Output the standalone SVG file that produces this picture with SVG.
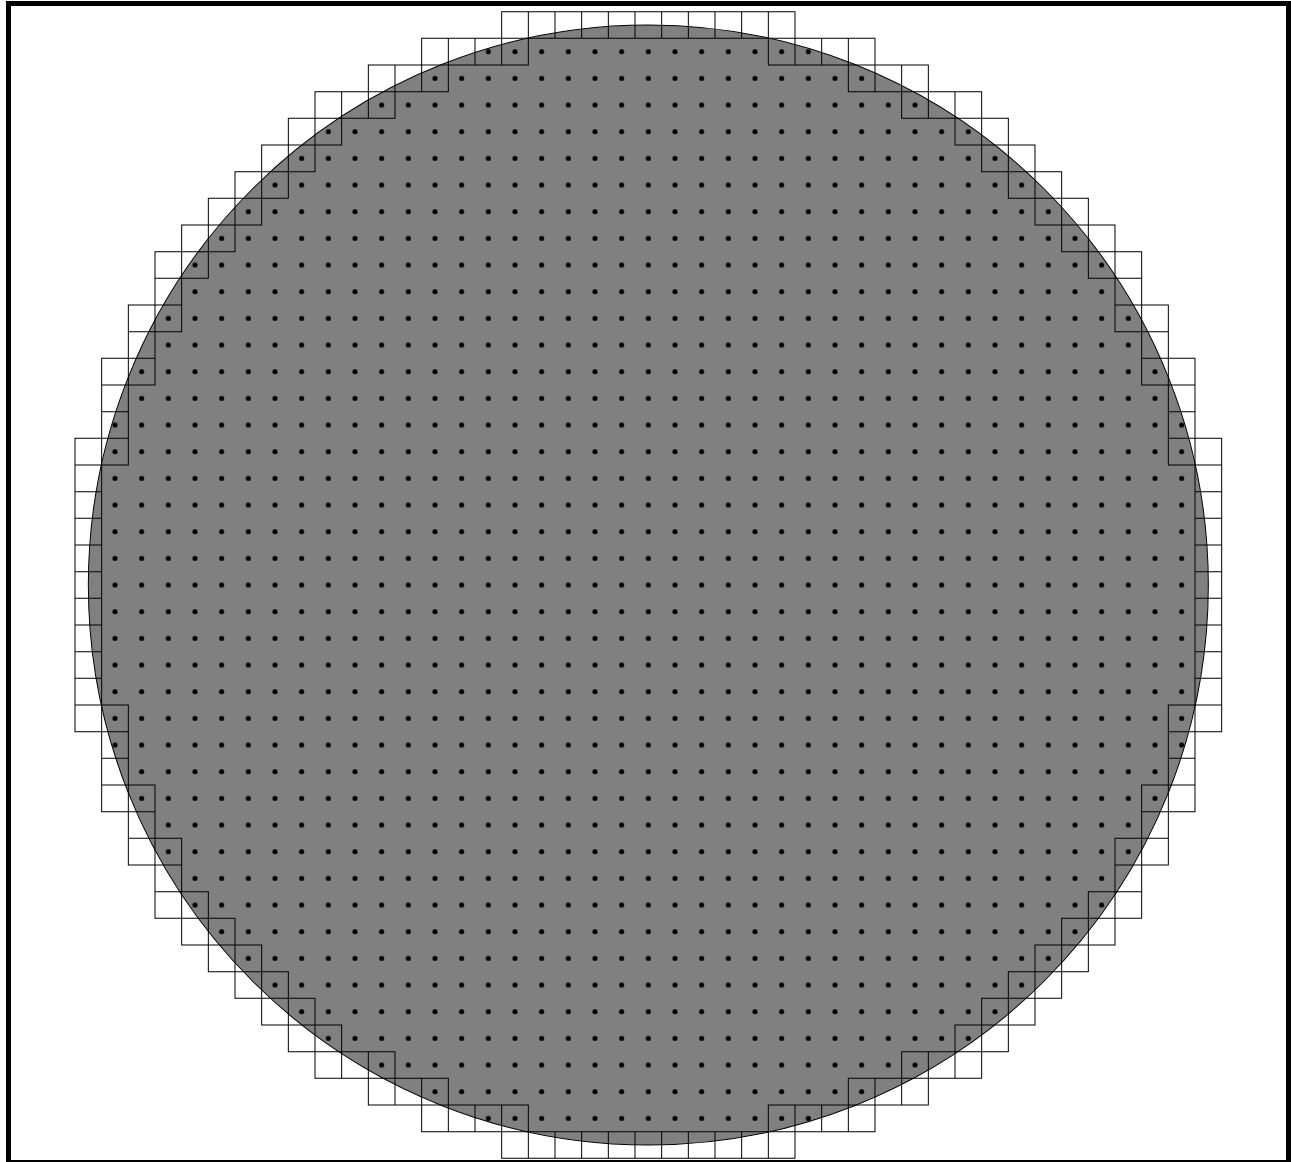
<svg xmlns="http://www.w3.org/2000/svg" width="1291" height="1162" viewBox="0 0 1291 1162">
<style>
.cell{fill:none;stroke:#000;stroke-width:0.0375}
</style>
<defs>
<pattern id="dot" patternUnits="userSpaceOnUse" x="-0.5" y="-0.5" width="1" height="1">
<circle cx="0.5" cy="0.5" r="0.095" fill="#000"/>
</pattern>
</defs>
<rect id="frame" x="8.5" y="3.5" width="1280" height="1159" fill="#fff" stroke="#000" stroke-width="5"/>
<g transform="translate(648.333 585) scale(26.6667)">
<circle id="disc" cx="0" cy="0" r="21" fill="#808080" stroke="#000" stroke-width="0.0375"/>
<path id="boundary-cells" class="cell" d="
M-5.5 -21.5h1v1h-1z M-4.5 -21.5h1v1h-1z M-3.5 -21.5h1v1h-1z M-2.5 -21.5h1v1h-1z M-1.5 -21.5h1v1h-1z M-0.5 -21.5h1v1h-1z M0.5 -21.5h1v1h-1z M1.5 -21.5h1v1h-1z M2.5 -21.5h1v1h-1z M3.5 -21.5h1v1h-1z M4.5 -21.5h1v1h-1z
M-5.5 20.5h1v1h-1z M-4.5 20.5h1v1h-1z M-3.5 20.5h1v1h-1z M-2.5 20.5h1v1h-1z M-1.5 20.5h1v1h-1z M-0.5 20.5h1v1h-1z M0.5 20.5h1v1h-1z M1.5 20.5h1v1h-1z M2.5 20.5h1v1h-1z M3.5 20.5h1v1h-1z M4.5 20.5h1v1h-1z
M-8.5 -20.5h1v1h-1z M-7.5 -20.5h1v1h-1z M-6.5 -20.5h1v1h-1z M-5.5 -20.5h1v1h-1z M4.5 -20.5h1v1h-1z M5.5 -20.5h1v1h-1z M6.5 -20.5h1v1h-1z M7.5 -20.5h1v1h-1z
M-8.5 19.5h1v1h-1z M-7.5 19.5h1v1h-1z M-6.5 19.5h1v1h-1z M-5.5 19.5h1v1h-1z M4.5 19.5h1v1h-1z M5.5 19.5h1v1h-1z M6.5 19.5h1v1h-1z M7.5 19.5h1v1h-1z
M-10.5 -19.5h1v1h-1z M-9.5 -19.5h1v1h-1z M-8.5 -19.5h1v1h-1z M7.5 -19.5h1v1h-1z M8.5 -19.5h1v1h-1z M9.5 -19.5h1v1h-1z
M-10.5 18.5h1v1h-1z M-9.5 18.5h1v1h-1z M-8.5 18.5h1v1h-1z M7.5 18.5h1v1h-1z M8.5 18.5h1v1h-1z M9.5 18.5h1v1h-1z
M-12.5 -18.5h1v1h-1z M-11.5 -18.5h1v1h-1z M-10.5 -18.5h1v1h-1z M9.5 -18.5h1v1h-1z M10.5 -18.5h1v1h-1z M11.5 -18.5h1v1h-1z
M-12.5 17.5h1v1h-1z M-11.5 17.5h1v1h-1z M-10.5 17.5h1v1h-1z M9.5 17.5h1v1h-1z M10.5 17.5h1v1h-1z M11.5 17.5h1v1h-1z
M-13.5 -17.5h1v1h-1z M-12.5 -17.5h1v1h-1z M11.5 -17.5h1v1h-1z M12.5 -17.5h1v1h-1z
M-13.5 16.5h1v1h-1z M-12.5 16.5h1v1h-1z M11.5 16.5h1v1h-1z M12.5 16.5h1v1h-1z
M-14.5 -16.5h1v1h-1z M-13.5 -16.5h1v1h-1z M12.5 -16.5h1v1h-1z M13.5 -16.5h1v1h-1z
M-14.5 15.5h1v1h-1z M-13.5 15.5h1v1h-1z M12.5 15.5h1v1h-1z M13.5 15.5h1v1h-1z
M-15.5 -15.5h1v1h-1z M-14.5 -15.5h1v1h-1z M13.5 -15.5h1v1h-1z M14.5 -15.5h1v1h-1z
M-15.5 14.5h1v1h-1z M-14.5 14.5h1v1h-1z M13.5 14.5h1v1h-1z M14.5 14.5h1v1h-1z
M-16.5 -14.5h1v1h-1z M-15.5 -14.5h1v1h-1z M14.5 -14.5h1v1h-1z M15.5 -14.5h1v1h-1z
M-16.5 13.5h1v1h-1z M-15.5 13.5h1v1h-1z M14.5 13.5h1v1h-1z M15.5 13.5h1v1h-1z
M-17.5 -13.5h1v1h-1z M-16.5 -13.5h1v1h-1z M15.5 -13.5h1v1h-1z M16.5 -13.5h1v1h-1z
M-17.5 12.5h1v1h-1z M-16.5 12.5h1v1h-1z M15.5 12.5h1v1h-1z M16.5 12.5h1v1h-1z
M-18.5 -12.5h1v1h-1z M-17.5 -12.5h1v1h-1z M16.5 -12.5h1v1h-1z M17.5 -12.5h1v1h-1z
M-18.5 11.5h1v1h-1z M-17.5 11.5h1v1h-1z M16.5 11.5h1v1h-1z M17.5 11.5h1v1h-1z
M-18.5 -11.5h1v1h-1z M17.5 -11.5h1v1h-1z
M-18.5 10.5h1v1h-1z M17.5 10.5h1v1h-1z
M-19.5 -10.5h1v1h-1z M-18.5 -10.5h1v1h-1z M17.5 -10.5h1v1h-1z M18.5 -10.5h1v1h-1z
M-19.5 9.5h1v1h-1z M-18.5 9.5h1v1h-1z M17.5 9.5h1v1h-1z M18.5 9.5h1v1h-1z
M-19.5 -9.5h1v1h-1z M18.5 -9.5h1v1h-1z
M-19.5 8.5h1v1h-1z M18.5 8.5h1v1h-1z
M-20.5 -8.5h1v1h-1z M-19.5 -8.5h1v1h-1z M18.5 -8.5h1v1h-1z M19.5 -8.5h1v1h-1z
M-20.5 7.5h1v1h-1z M-19.5 7.5h1v1h-1z M18.5 7.5h1v1h-1z M19.5 7.5h1v1h-1z
M-20.5 -7.5h1v1h-1z M19.5 -7.5h1v1h-1z
M-20.5 6.5h1v1h-1z M19.5 6.5h1v1h-1z
M-20.5 -6.5h1v1h-1z M19.5 -6.5h1v1h-1z
M-20.5 5.5h1v1h-1z M19.5 5.5h1v1h-1z
M-21.5 -5.5h1v1h-1z M-20.5 -5.5h1v1h-1z M19.5 -5.5h1v1h-1z M20.5 -5.5h1v1h-1z
M-21.5 4.5h1v1h-1z M-20.5 4.5h1v1h-1z M19.5 4.5h1v1h-1z M20.5 4.5h1v1h-1z
M-21.5 -4.5h1v1h-1z M20.5 -4.5h1v1h-1z
M-21.5 -3.5h1v1h-1z M20.5 -3.5h1v1h-1z
M-21.5 -2.5h1v1h-1z M20.5 -2.5h1v1h-1z
M-21.5 -1.5h1v1h-1z M20.5 -1.5h1v1h-1z
M-21.5 -0.5h1v1h-1z M20.5 -0.5h1v1h-1z
M-21.5 0.5h1v1h-1z M20.5 0.5h1v1h-1z
M-21.5 1.5h1v1h-1z M20.5 1.5h1v1h-1z
M-21.5 2.5h1v1h-1z M20.5 2.5h1v1h-1z
M-21.5 3.5h1v1h-1z M20.5 3.5h1v1h-1z"/>
<path id="dots" fill="url(#dot)" d="
M-6.5 -20.5h13v1h-13z
M-8.5 -19.5h17v1h-17z
M-10.5 -18.5h21v1h-21z
M-12.5 -17.5h25v1h-25z
M-13.5 -16.5h27v1h-27z
M-14.5 -15.5h29v1h-29z
M-15.5 -14.5h31v1h-31z
M-16.5 -13.5h33v1h-33z
M-17.5 -12.5h35v2h-35z
M-18.5 -10.5h37v2h-37z
M-19.5 -8.5h39v2h-39z
M-20.5 -6.5h41v13h-41z
M-19.5 6.5h39v2h-39z
M-18.5 8.5h37v2h-37z
M-17.5 10.5h35v2h-35z
M-16.5 12.5h33v1h-33z
M-15.5 13.5h31v1h-31z
M-14.5 14.5h29v1h-29z
M-13.5 15.5h27v1h-27z
M-12.5 16.5h25v1h-25z
M-10.5 17.5h21v1h-21z
M-8.5 18.5h17v1h-17z
M-6.5 19.5h13v1h-13z"/>
</g>
</svg>
